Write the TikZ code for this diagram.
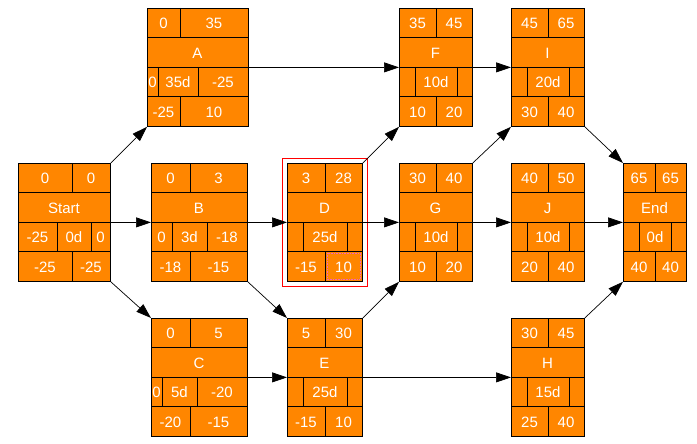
\documentclass[tikz,border=0pt]{standalone}
\usepackage{fontspec}
\setmainfont{Liberation Sans}
\usepackage{tikz}
\usetikzlibrary{arrows.meta,positioning}

\tikzset{
  box/.style={draw=black,fill=orange!95!yellow,inner sep=0pt,line width=0.8pt},
  val/.style={text=white,font=\fontsize{15}{15}\selectfont,inner sep=0pt},
  link/.style={-{Triangle[length=15pt,width=10pt]},line width=0.7pt}
}
% geometry of a box: left, top, width, middle split, row-3 splits
\def\tparse#1/#2/#3/#4/#5/#6/#7\relax{%
  \node[val] at ({(\tl+\tm)/2},\tt+15) {#1};
  \node[val] at ({(\tm+\tl+\tw)/2},\tt+15) {#2};
  \node[val] at ({(\tl+\ta)/2},\tt+74) {#3};
  \node[val] at ({(\ta+\tb)/2},\tt+74) {#4};
  \node[val] at ({(\tb+\tl+\tw)/2},\tt+74) {#5};
  \node[val] at ({(\tl+\tm)/2},\tt+104) {#6};
  \node[val] at ({(\tm+\tl+\tw)/2},\tt+104) {#7};
}
\newcommand\tbox[9]{%
  \def\tl{#2}\def\tt{#3}\def\tw{#4}\def\tm{#5}\def\ta{#6}\def\tb{#7}%
  \node[box,minimum width=#4pt,minimum height=118pt,anchor=north west] (#1) at (#2,#3) {};
  \draw[line width=0.8pt] (#2,#3+29.5) -- ++(#4,0) (#2,#3+59) -- ++(#4,0) (#2,#3+88.5) -- ++(#4,0)
    (#5,#3) -- ++(0,29.5) (#5,#3+88.5) -- ++(0,29.5) (#6,#3+59) -- ++(0,29.5) (#7,#3+59) -- ++(0,29.5);
  \node[val] at ({#2+#4/2},#3+45) {#8};
  \tparse#9\relax
}

\begin{document}
\begin{tikzpicture}[x=1pt,y=-1pt]
	\useasboundingbox (0,0) rectangle (697,444);
	\tbox{start}{18}{163}{92}{72}{57}{91}{Start}{0/0/-25/0d/0/-25/-25}
	\tbox{a}{147}{8}{101}{180}{158}{198}{A}{0/35/0/35d/-25/-25/10}
	\tbox{b}{151}{163}{96}{190}{172}{207}{B}{0/3/0/3d/-18/-18/-15}
	\tbox{c}{151}{318}{96}{190}{162}{197}{C}{0/5/0/5d/-20/-20/-15}
	\tbox{d}{287}{163}{75}{325}{303}{347}{D}{3/28//25d//-15/10}
	\tbox{e}{287}{318}{75}{325}{303}{347}{E}{5/30//25d//-15/10}
	\tbox{f}{399}{8}{73}{436}{415}{457}{F}{35/45//10d//10/20}
	\tbox{g}{399}{163}{73}{436}{415}{457}{G}{30/40//10d//10/20}
	\tbox{i}{511}{8}{73}{548}{527}{569}{I}{45/65//20d//30/40}
	\tbox{j}{511}{163}{73}{548}{527}{569}{J}{40/50//10d//20/40}
	\tbox{h}{511}{318}{73}{548}{527}{569}{H}{30/45//15d//25/40}
	\tbox{end}{623}{163}{63}{655}{639}{671}{End}{65/65//0d//40/40}
	% selection marks
	\draw[red,line width=0.7pt] (282,158) rectangle (367,286);
	\draw[magenta!60,densely dotted,line width=0.6pt] (327,253) rectangle (360,279);

	\path[link]
	(start.north east) edge (a.south west)
	(start) edge (b)
	(start.south east) edge (c.north west)
	(a) edge (f)
	(b) edge (d)
	(b.south east) edge (e.north west)
	(c) edge (e)
	(d.north east) edge (f.south west)
	(d) edge (g)
	(e.north east) edge (g.south west)
	(e) edge (h)
	(f) edge (i)
	(g.north east) edge (i.south west)
	(g) edge (j)
	(i.south east) edge (end.north west)
	(j) edge (end)
	(h.north east) edge (end.south west);
\end{tikzpicture}
\end{document}
